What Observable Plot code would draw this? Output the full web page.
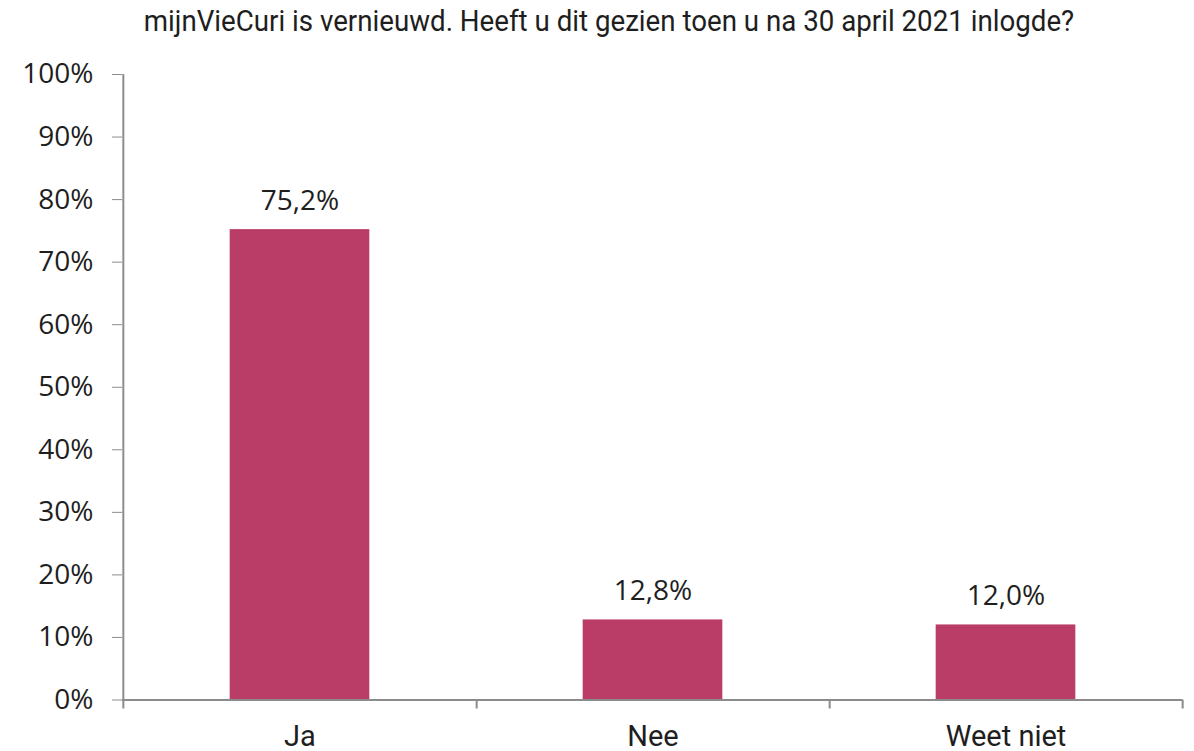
<!DOCTYPE html>
<html>
<head>
<meta charset="utf-8">
<script src="https://cdn.jsdelivr.net/npm/d3@7"></script>
<script src="https://cdn.jsdelivr.net/npm/@observablehq/plot@0.6"></script>
<style>
  html, body { margin: 0; padding: 0; background: #fff; overflow: hidden; }
  #title {
    box-sizing: border-box; height: 40px; width: 1194px;
    padding-top: 6px; padding-left: 24px;
    text-align: center; font-family: Roboto, sans-serif;
    font-size: 30px; line-height: 30px; color: #1e1e1e; white-space: nowrap;
  }
  #title span { display: inline-block; transform: scaleX(0.923); transform-origin: center; }
  #chart svg text { fill: #1e1e1e; }
</style>
</head>
<body>
<div id="title"><span>mijnVieCuri is vernieuwd. Heeft u dit gezien toen u na 30 april 2021 inlogde?</span></div>
<div id="chart"></div>
<script>
const categories = ["Ja", "Nee", "Weet niet"];
const values = [75.2, 12.8, 12.0];
const yTicks = [0, 10, 20, 30, 40, 50, 60, 70, 80, 90, 100];

const data = categories.map((c, i) => ({answer: c, pct: values[i]}));
const fmt = v => v.toFixed(1).replace(".", ",") + "%";

const W = 1194, H = 711, mL = 122, mR = 12, mT = 34, mB = 51.5;
const bw = (W - mL - mR) / categories.length;
const barW = 140;
const inset = (bw - barW) / 2;
const axisColor = "#8c8c8c";

const chart = Plot.plot({
  width: W, height: H,
  marginLeft: mL, marginRight: mR, marginTop: mT, marginBottom: mB,
  style: {fontFamily: "'Open Sans', sans-serif", fontSize: "28px", color: axisColor, background: "#fff"},
  x: {domain: categories, axis: null, padding: 0},
  y: {domain: [0, 100], ticks: yTicks, tickFormat: d => d + "%", tickSize: 10, tickPadding: 19, label: null},
  marks: [
    Plot.barY(data, {x: "answer", y: "pct", fill: "#b93d66", insetLeft: inset, insetRight: inset}),
    Plot.ruleY([0], {stroke: axisColor, strokeWidth: 2}),
    Plot.ruleX([categories[0]], {x: d => d, y1: 100, y2: 0, dx: -bw / 2, insetBottom: -9, stroke: axisColor, strokeWidth: 2}),
    Plot.ruleX(categories, {x: d => d, y1: 0, y2: 0, dx: bw / 2, insetBottom: -9, stroke: axisColor, strokeWidth: 2}),
    Plot.text(data, {x: "answer", y: "pct", text: d => fmt(d.pct), lineAnchor: "bottom", dy: -20, fontSize: 28, fontFamily: "'Open Sans', sans-serif", fill: "#1e1e1e"}),
    Plot.text(categories, {x: d => d, frameAnchor: "bottom", text: d => d, lineAnchor: "bottom", dy: 45.5, fontSize: 29, fontFamily: "Roboto, sans-serif", fill: "#1e1e1e"})
  ]
});
document.getElementById("chart").appendChild(chart);
</script>
</body>
</html>
